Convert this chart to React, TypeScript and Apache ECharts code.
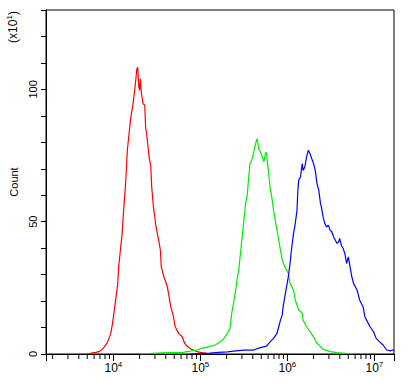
import React, { useEffect, useRef } from "react";
import * as echarts from "echarts";

// Histogram data: [log10(fluorescence), count (x10^1)]
const redHist: [number, number][] = [
  [3.70, 0], [3.76, 0.4], [3.80, 0.6], [3.84, 1.0], [3.86, 1.4], [3.89, 2.5], [3.93, 4.3], [3.97, 7.8],
  [3.99, 11.6], [4.01, 16.6], [4.03, 21.6], [4.05, 26.7], [4.06, 32.9], [4.08, 39.2], [4.10, 45.5],
  [4.12, 55.6], [4.14, 64.4], [4.15, 70.7], [4.16, 77.0], [4.18, 83.3], [4.20, 89.5], [4.22, 93.3],
  [4.24, 98.4], [4.26, 104.6], [4.27, 107.8], [4.28, 108.3], [4.29, 101.5], [4.30, 99.6], [4.31, 104.0],
  [4.32, 99.0], [4.34, 94.6], [4.36, 94.0], [4.37, 85.8], [4.39, 80.8], [4.41, 74.5], [4.43, 70.7],
  [4.44, 63.1], [4.46, 55.6], [4.47, 53.1], [4.49, 48.0], [4.52, 43.0], [4.54, 39.2], [4.55, 32.9],
  [4.58, 29.2], [4.62, 25.4], [4.64, 21.6], [4.66, 17.8], [4.69, 14.1], [4.71, 10.3], [4.75, 7.8],
  [4.79, 6.5], [4.82, 4.0], [4.85, 2.8], [4.89, 1.9], [4.96, 0.9], [5.00, 0.6], [5.05, 0.3], [5.10, 0],
];

const greenHist: [number, number][] = [
  [4.30, 0], [4.55, 0.4], [4.80, 0.6], [4.96, 1.5], [5.00, 2.0], [5.10, 2.8], [5.17, 3.4], [5.23, 4.6],
  [5.27, 5.9], [5.31, 7.8], [5.34, 9.7], [5.36, 15.4], [5.38, 19.1], [5.40, 22.9], [5.42, 27.9],
  [5.44, 31.7], [5.46, 38.0], [5.48, 44.3], [5.50, 50.6], [5.52, 56.9], [5.54, 60.6], [5.55, 65.0],
  [5.57, 72.0], [5.59, 73.2], [5.61, 75.7], [5.63, 78.9], [5.65, 81.4], [5.67, 77.6], [5.69, 76.3],
  [5.71, 74.5], [5.73, 72.6], [5.75, 76.3], [5.76, 75.7], [5.78, 69.4], [5.80, 63.1], [5.82, 59.4],
  [5.84, 54.3], [5.86, 50.6], [5.88, 46.8], [5.90, 43.0], [5.92, 39.2], [5.94, 35.5], [5.97, 32.9],
  [6.01, 30.5], [6.03, 26.7], [6.07, 24.2], [6.09, 20.4], [6.13, 16.6], [6.17, 15.4], [6.18, 12.8],
  [6.22, 10.3], [6.26, 8.4], [6.30, 6.5], [6.34, 4.0], [6.38, 2.8], [6.41, 1.8], [6.49, 0.9],
  [6.57, 0.5], [6.66, 0.2], [6.75, 0],
];

const blueHist: [number, number][] = [
  [4.88, 0], [5.11, 0.3], [5.21, 0.6], [5.31, 0.8], [5.38, 1.1], [5.50, 1.5], [5.61, 1.5], [5.69, 2.4],
  [5.76, 3.0], [5.80, 4.6], [5.84, 5.9], [5.88, 7.8], [5.90, 10.3], [5.92, 12.8], [5.94, 14.7],
  [5.95, 17.8], [5.97, 21.6], [5.99, 25.4], [6.01, 29.2], [6.03, 34.2], [6.05, 40.5], [6.07, 45.5],
  [6.09, 49.3], [6.11, 54.3], [6.12, 61.9], [6.13, 65.7], [6.15, 66.9], [6.17, 72.0], [6.18, 69.4],
  [6.20, 70.7], [6.22, 74.5], [6.24, 77.0], [6.26, 75.7], [6.28, 73.8], [6.30, 72.0], [6.32, 69.4],
  [6.34, 64.4], [6.36, 61.9], [6.38, 56.9], [6.39, 55.6], [6.41, 51.8], [6.43, 49.3], [6.45, 48.0],
  [6.47, 48.7], [6.49, 46.8], [6.51, 46.2], [6.53, 44.3], [6.55, 43.0], [6.57, 41.8], [6.59, 42.4],
  [6.60, 43.7], [6.62, 41.1], [6.64, 39.9], [6.66, 38.0], [6.68, 34.2], [6.70, 36.7], [6.72, 32.9],
  [6.74, 29.2], [6.76, 26.7], [6.80, 24.2], [6.83, 20.4], [6.87, 17.8], [6.89, 14.1], [6.91, 12.8],
  [6.95, 10.3], [6.99, 8.4], [7.02, 5.9], [7.06, 4.6], [7.10, 3.4], [7.14, 1.5], [7.18, 1.2],
  [7.21, 1.5], [7.225, 1.5],
];

// Axis settings
const xMinExp = 3.225;
const xMaxExp = 7.225;
const yMax = 130;
const yInterval = 10;
const yLabelValues = [0, 50, 100];
const minorMantissas = [2, 3, 4, 5, 6, 7, 8, 9];
const minorExponents = [3, 4, 5, 6];

const FONT = "'Liberation Sans', Arial, sans-serif";

const toPoints = (h: [number, number][]) => h.map(([e, c]) => [Math.pow(10, e), c]);

export default function App() {
  const ref = useRef<HTMLDivElement>(null);
  useEffect(() => {
    if (!ref.current) return;
    const chart = echarts.init(ref.current, undefined, { renderer: "svg" });
    const xMin = Math.pow(10, xMinExp);
    const xMax = Math.pow(10, xMaxExp);
    const minorTicks: number[][] = [];
    minorExponents.forEach((e) =>
      minorMantissas.forEach((m) => {
        const v = m * Math.pow(10, e);
        if (v > xMin && v < xMax) minorTicks.push([v, 0]);
      })
    );
    const line = (name: string, color: string, h: [number, number][]) => ({
      name,
      type: "line",
      data: toPoints(h),
      showSymbol: false,
      symbol: "none",
      lineStyle: { color, width: 1.2 },
      itemStyle: { color },
      clip: true,
      z: 3,
    });
    chart.setOption({
      animation: false,
      grid: {
        left: 45,
        top: 10,
        right: 23,
        bottom: 29,
        show: true,
        borderColor: "#000",
        borderWidth: 1,
        backgroundColor: "transparent",
      },
      xAxis: {
        type: "log",
        logBase: 10,
        min: xMin,
        max: xMax,
        axisLine: { show: true, lineStyle: { color: "#000", width: 1 } },
        axisTick: { show: true, length: 7, lineStyle: { color: "#000" } },
        splitLine: { show: false },
        axisLabel: {
          margin: 6,
          color: "#000",
          formatter: (v: number) => {
            const e = Math.log10(v);
            const r = Math.round(e);
            if (Math.abs(e - r) > 1e-6) return "";
            return `{b|10}{s|${r}}`;
          },
          rich: {
            b: { fontSize: 12, fontFamily: FONT, color: "#000", lineHeight: 14, verticalAlign: "bottom" },
            s: { fontSize: 8, fontFamily: FONT, color: "#000", lineHeight: 8, verticalAlign: "top" },
          },
        },
      },
      yAxis: {
        type: "value",
        min: 0,
        max: yMax,
        interval: yInterval,
        name: "Count",
        nameLocation: "middle",
        nameRotate: 90,
        nameGap: 27,
        nameTextStyle: { fontFamily: FONT, fontSize: 11, color: "#000" },
        axisLine: { show: true, lineStyle: { color: "#000", width: 1 } },
        axisTick: { show: true, length: 5, lineStyle: { color: "#000" } },
        splitLine: { show: false },
        axisLabel: {
          rotate: 90,
          margin: 8,
          fontFamily: FONT,
          fontSize: 11,
          color: "#000",
          formatter: (v: number) => (yLabelValues.includes(v) ? String(v) : ""),
        },
      },
      graphic: [
        {
          type: "text",
          x: 12,
          y: 27,
          rotation: Math.PI / 2,
          style: {
            text: "{a|(x10}{s|1}{a|)}",
            align: "center",
            verticalAlign: "middle",
            rich: {
              a: { fontFamily: FONT, fontSize: 12, fill: "#000", lineHeight: 14, verticalAlign: "bottom" },
              s: { fontFamily: FONT, fontSize: 8, fill: "#000", lineHeight: 8, verticalAlign: "top" },
            },
          },
        },
      ],
      series: [
        {
          type: "custom",
          silent: true,
          clip: false,
          data: minorTicks,
          renderItem: (_p: any, api: any) => {
            const pt = api.coord([api.value(0), 0]);
            return {
              type: "line",
              shape: { x1: pt[0], y1: pt[1], x2: pt[0], y2: pt[1] + 5 },
              style: { stroke: "#000", lineWidth: 1 },
            };
          },
          z: 1,
        },
        line("red", "#ff0000", redHist),
        line("green", "#00ee00", greenHist),
        line("blue", "#0000ff", blueHist),
      ],
    });
    return () => chart.dispose();
  }, []);
  return (
    <div
      ref={ref}
      style={{ position: "fixed", left: 0, top: 0, width: 417, height: 383, background: "#fff" }}
    />
  );
}
